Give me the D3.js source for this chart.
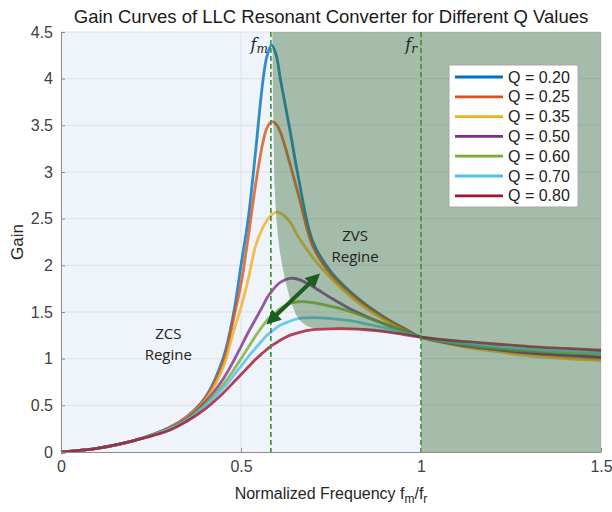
<!DOCTYPE html>
<html>
<head>
<meta charset="utf-8">
<script src="https://cdn.jsdelivr.net/npm/d3@7"></script>
<style>
  body { margin: 0; background: #fff; }
  svg { display: block; }
</style>
</head>
<body>
<div class="chart"></div>
<script>
// normalized frequency grid (shared x values)
var freq = [0, 0.1, 0.2, 0.3, 0.35, 0.4, 0.45, 0.48, 0.5, 0.52, 0.54, 0.56, 0.572, 0.585, 0.598, 0.61, 0.635, 0.66, 0.7, 0.75, 0.8, 0.85, 0.9, 0.95, 1.0, 1.1, 1.2, 1.3, 1.4, 1.5];

// gain values for each Q
var gainQ020 = [0, .04, .12, .26, .38, .58, 1.0, 1.5, 2.0, 2.5, 3.2, 3.95, 4.24, 4.36, 4.25, 3.98, 3.47, 2.93, 2.25, 1.93, 1.73, 1.57, 1.44, 1.33, 1.23, 1.16, 1.11, 1.07, 1.04, 1.01];
var gainQ025 = [0, .04, .12, .26, .38, .57, .95, 1.44, 1.8, 2.3, 2.85, 3.3, 3.47, 3.54, 3.51, 3.42, 3.1, 2.75, 2.2, 1.9, 1.71, 1.56, 1.43, 1.33, 1.23, 1.15, 1.10, 1.06, 1.02, 1.00];
var gainQ035 = [0, .04, .12, .25, .37, .55, .9, 1.3, 1.55, 1.85, 2.2, 2.4, 2.48, 2.54, 2.57, 2.56, 2.47, 2.3, 2.08, 1.86, 1.68, 1.53, 1.41, 1.31, 1.23, 1.14, 1.08, 1.03, 1.0, .98];
var gainQ050 = [0, .04, .12, .25, .36, .53, .78, .98, 1.13, 1.28, 1.42, 1.56, 1.65, 1.72, 1.78, 1.82, 1.86, 1.85, 1.77, 1.65, 1.54, 1.45, 1.37, 1.3, 1.23, 1.15, 1.10, 1.06, 1.04, 1.02];
var gainQ060 = [0, .04, .12, .25, .35, .51, .72, .88, 1.0, 1.12, 1.24, 1.35, 1.41, 1.46, 1.50, 1.54, 1.59, 1.61, 1.60, 1.56, 1.51, 1.44, 1.37, 1.30, 1.23, 1.16, 1.11, 1.08, 1.06, 1.05];
var gainQ070 = [0, .04, .12, .24, .34, .49, .68, .82, .92, 1.02, 1.11, 1.2, 1.25, 1.29, 1.33, 1.36, 1.40, 1.43, 1.44, 1.43, 1.41, 1.37, 1.33, 1.28, 1.23, 1.17, 1.13, 1.10, 1.08, 1.07];
var gainQ080 = [0, .04, .12, .23, .33, .46, .63, .75, .83, .91, .99, 1.06, 1.10, 1.14, 1.17, 1.2, 1.25, 1.28, 1.31, 1.32, 1.32, 1.31, 1.29, 1.26, 1.23, 1.19, 1.16, 1.13, 1.11, 1.09];

var qLabels = ["Q = 0.20", "Q = 0.25", "Q = 0.35", "Q = 0.50", "Q = 0.60", "Q = 0.70", "Q = 0.80"];
var qGains = [gainQ020, gainQ025, gainQ035, gainQ050, gainQ060, gainQ070, gainQ080];
var qColors = ["#0072BD", "#D95319", "#EDB120", "#7E2F8E", "#77AC30", "#4DBEEE", "#A2142F"];

// edge of the shaded ZVS region (freq, gain)
var zvsEdgeF = [0.587, 0.59, 0.594, 0.603, 0.617, 0.64, 0.66, 0.69, 0.75, 0.85, 1.0];
var zvsEdgeG = [4.5, 3.6, 2.8, 2.3, 1.95, 1.6, 1.43, 1.34, 1.33, 1.31, 1.23];

var fm = 0.583, fr = 1.0;
var xTicks = [0, 0.5, 1, 1.5];
var yTicks = [0, 0.5, 1, 1.5, 2, 2.5, 3, 3.5, 4, 4.5];

var svgWidth = 612, svgHeight = 512;
var margin = {top: 32, right: 11, bottom: 60, left: 61};
var width = svgWidth - margin.left - margin.right;
var height = svgHeight - margin.top - margin.bottom;

var svg = d3.select(".chart").append("svg")
  .attr("width", svgWidth)
  .attr("height", svgHeight)
  .style("font-family", "'Liberation Sans', Arial, sans-serif");

var chartGroup = svg.append("g")
  .attr("transform", `translate(${margin.left}, ${margin.top})`);

var x = d3.scaleLinear().domain([0, 1.5]).range([0, width]);
var y = d3.scaleLinear().domain([0, 4.5]).range([height, 0]);

// background
chartGroup.append("rect")
  .attr("width", width).attr("height", height)
  .attr("fill", "#eff3fa");

// grid
chartGroup.append("g").selectAll("line.gy")
  .data(yTicks.slice(1)).enter().append("line")
  .attr("x1", 0).attr("x2", width)
  .attr("y1", d => y(d)).attr("y2", d => y(d))
  .attr("stroke", "#dde2ea").attr("stroke-width", 1);
chartGroup.append("g").selectAll("line.gx")
  .data(xTicks.slice(1)).enter().append("line")
  .attr("y1", 0).attr("y2", height)
  .attr("x1", d => x(d)).attr("x2", d => x(d))
  .attr("stroke", "#dde2ea").attr("stroke-width", 1);

// curves
var line = d3.line()
  .x(d => x(d[0]))
  .y(d => y(d[1]))
  .curve(d3.curveCatmullRom.alpha(0.5));

qGains.forEach(function(g, i) {
  chartGroup.append("path")
    .datum(freq.map((f, j) => [f, g[j]]))
    .attr("d", line)
    .attr("fill", "none")
    .attr("stroke", qColors[i])
    .attr("stroke-opacity", 0.8)
    .attr("stroke-width", 2.8);
});

// shaded ZVS region
var edge = zvsEdgeF.map((f, j) => [f, zvsEdgeG[j]]);
var zvsPath = line(edge) +
  `L${x(1)},${y(0)}L${x(1.5)},${y(0)}L${x(1.5)},${y(4.5)}Z`;
chartGroup.append("path")
  .attr("d", zvsPath)
  .attr("fill", "rgb(30,92,24)")
  .attr("fill-opacity", 0.36);

// fm / fr dashed lines
[fm, fr].forEach(function(v) {
  chartGroup.append("line")
    .attr("x1", x(v)).attr("x2", x(v))
    .attr("y1", 0).attr("y2", height)
    .attr("stroke", "#3d8f35")
    .attr("stroke-width", 1.6)
    .attr("stroke-dasharray", "5,3");
});

// axes
var yAxis = d3.axisLeft(y).tickValues(yTicks).tickFormat(d3.format("")).tickSizeInner(-4).tickSizeOuter(0).tickPadding(8);
var xAxis = d3.axisBottom(x).tickValues(xTicks).tickFormat(d3.format("")).tickSizeInner(-4).tickSizeOuter(0).tickPadding(9);

var gy = chartGroup.append("g").call(yAxis);
var gx = chartGroup.append("g").attr("transform", `translate(0, ${height})`).call(xAxis);
[gx, gy].forEach(function(g) {
  g.select(".domain").attr("stroke", "#8c8c8c");
  g.selectAll(".tick line").attr("stroke", "#8c8c8c");
  g.selectAll(".tick text").attr("fill", "#404040").style("font-size", "16px")
    .style("font-family", "'Liberation Sans', Arial, sans-serif");
});

// fm / fr labels
function mathLabel(px, txt, sub) {
  var t = chartGroup.append("text")
    .attr("x", px).attr("y", 18)
    .attr("text-anchor", "end")
    .style("font-family", "'DejaVu Serif', 'Liberation Serif', serif")
    .style("font-style", "italic")
    .style("font-size", "16px")
    .attr("fill", "#222");
  t.append("tspan").text(txt);
  t.append("tspan").attr("dy", 3).style("font-size", "12px").text(sub);
}
mathLabel(x(fm) - 3, "f", "m");
mathLabel(x(fr) - 4, "f", "r");

// region notes
function note(px, py, lines) {
  var t = chartGroup.append("text")
    .attr("text-anchor", "middle")
    .style("font-family", "'Open Sans', 'Noto Sans', sans-serif")
    .style("font-size", "15px")
    .attr("fill", "#222");
  lines.forEach(function(s, i) {
    t.append("tspan").attr("x", px).attr("y", py + i * 21).text(s);
  });
}
note(x(0.817), y(2.26), ["ZVS", "Regine"]);
note(x(0.298), y(1.215), ["ZCS", "Regine"]);

// double arrow
svg.append("defs").append("marker")
  .attr("id", "head")
  .attr("viewBox", "0 0 10 10")
  .attr("refX", 5).attr("refY", 5)
  .attr("markerWidth", 3.6).attr("markerHeight", 3.6)
  .attr("orient", "auto-start-reverse")
  .append("path").attr("d", "M0,0L10,5L0,10Z").attr("fill", "#1b5e20");

chartGroup.append("line")
  .attr("x1", x(0.585)).attr("y1", y(1.42))
  .attr("x2", x(0.705)).attr("y2", y(1.86))
  .attr("stroke", "#1b5e20")
  .attr("stroke-width", 4)
  .attr("marker-start", "url(#head)")
  .attr("marker-end", "url(#head)");

// legend
var legend = chartGroup.append("g").attr("transform", `translate(${449 - margin.left}, ${65 - margin.top})`);
legend.append("rect")
  .attr("width", 129).attr("height", 142)
  .attr("fill", "#fff").attr("stroke", "#a8a8a8");
qLabels.forEach(function(lbl, i) {
  var row = legend.append("g").attr("transform", `translate(0, ${12 + i * 19.8})`);
  row.append("line").attr("x1", 6).attr("x2", 54).attr("y1", 0).attr("y2", 0)
    .attr("stroke", qColors[i]).attr("stroke-width", 2.8);
  row.append("text").attr("x", 59).attr("y", 5.5)
    .style("font-size", "16px").attr("fill", "#222").text(lbl);
});

// title and axis labels
svg.append("text")
  .attr("x", 331).attr("y", 23)
  .attr("text-anchor", "middle")
  .style("font-size", "18.5px").attr("fill", "#1a1a1a")
  .text("Gain Curves of LLC Resonant Converter for Different Q Values");

svg.append("text")
  .attr("transform", "translate(23, 242) rotate(-90)")
  .attr("text-anchor", "middle")
  .style("font-size", "17px").attr("fill", "#262626")
  .text("Gain");

var xl = svg.append("text")
  .attr("x", 331).attr("y", 499)
  .attr("text-anchor", "middle")
  .style("font-size", "16px").attr("fill", "#262626");
xl.append("tspan").text("Normalized Frequency f");
xl.append("tspan").attr("dy", 4).style("font-size", "12px").text("m");
xl.append("tspan").attr("dy", -4).text("/f");
xl.append("tspan").attr("dy", 4).style("font-size", "12px").text("r");
</script>
</body>
</html>
